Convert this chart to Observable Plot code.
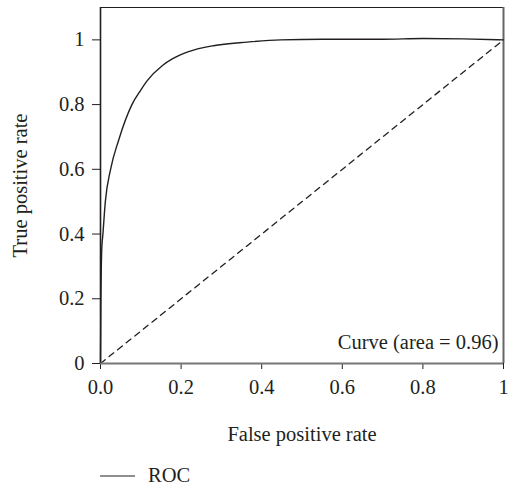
<!DOCTYPE html>
<html>
<head>
<meta charset="utf-8">
<script src="https://cdn.jsdelivr.net/npm/d3@7"></script>
<script src="https://cdn.jsdelivr.net/npm/@observablehq/plot@0.6"></script>
<style>
  html, body { margin: 0; padding: 0; background: #fff; }
  #chart { width: 514px; height: 486px; position: relative; font-family: "Liberation Serif", "DejaVu Serif", serif; color: #231f20; }
  #legend { position: absolute; left: 100px; top: 464px; display: flex; align-items: center; font-size: 20.5px; }
  #legend svg { margin-right: 13px; }
</style>
</head>
<body>
<div id="chart"></div>
<script>
// ROC curve values
const fpr = [0, 0.0005, 0.001, 0.002, 0.003, 0.006, 0.012, 0.025, 0.045, 0.078, 0.1, 0.116, 0.153, 0.178, 0.215, 0.28, 0.364, 0.447, 0.55, 0.7, 0.8, 0.9, 1];
const tpr = [0, 0.1, 0.2, 0.3, 0.35, 0.4, 0.5, 0.6, 0.69, 0.8, 0.845, 0.874, 0.92, 0.941, 0.962, 0.982, 0.993, 1.0, 1.002, 1.002, 1.004, 1.003, 1.0];
const chanceX = [0, 1];
const chanceY = [0, 1];
const xTicks = [0, 0.2, 0.4, 0.6, 0.8, 1];
const xTickLabels = ["0.0", "0.2", "0.4", "0.6", "0.8", "1"];
const yTicks = [0, 0.2, 0.4, 0.6, 0.8, 1];
const yTickLabels = ["0", "0.2", "0.4", "0.6", "0.8", "1"];
const xLabel = "False positive rate";
const yLabel = "True positive rate";
const annotation = "Curve (area = 0.96)";
const seriesName = "ROC";

const roc = fpr.map((x, i) => ({x, y: tpr[i]}));
const chance = chanceX.map((x, i) => ({x, y: chanceY[i]}));

const plot = Plot.plot({
  width: 514,
  height: 455,
  marginLeft: 100,
  marginRight: 11,
  marginTop: 7,
  marginBottom: 92,
  style: {fontFamily: "Liberation Serif", fontSize: "20.5px", color: "#231f20", background: "#fff"},
  x: {domain: [0, 1], label: null},
  y: {domain: [0, 1.1], label: null},
  marks: [
    Plot.axisX({ticks: xTicks, tickFormat: (d) => xTickLabels[xTicks.indexOf(d)], tickSize: 6, tickPadding: 10, stroke: "#231f20", fontSize: 20.5}),
    Plot.axisY({ticks: yTicks, tickFormat: (d) => yTickLabels[yTicks.indexOf(d)], tickSize: 8, tickPadding: 8, stroke: "#231f20", fontSize: 20.5}),
    Plot.ruleY([1.1], {stroke: "#231f20", strokeWidth: 1.2}),
    Plot.ruleX([1], {stroke: "#666", strokeWidth: 2}),
    Plot.line(chance, {x: "x", y: "y", stroke: "#231f20", strokeWidth: 1.3, strokeDasharray: "6,5"}),
    Plot.line(roc, {x: "x", y: "y", stroke: "#231f20", strokeWidth: 1.4, curve: "monotone-x"}),
    Plot.ruleX([0], {stroke: "#231f20", strokeWidth: 1.6}),
    Plot.ruleY([0], {stroke: "#777", strokeWidth: 2.2}),
    Plot.text([annotation], {frameAnchor: "bottom-right", textAnchor: "end", lineAnchor: "middle", dx: -5, dy: -21, fontSize: 20.5, fill: "#231f20"}),
    Plot.text([xLabel], {frameAnchor: "bottom", lineAnchor: "middle", dy: 71, fontSize: 20.5, fill: "#231f20"}),
    Plot.text([yLabel], {frameAnchor: "left", lineAnchor: "middle", textAnchor: "middle", rotate: -90, dx: -80, fontSize: 20.5, fill: "#231f20"})
  ]
});

const chart = document.getElementById("chart");
chart.appendChild(plot);

const legend = document.createElement("div");
legend.id = "legend";
legend.innerHTML = `<svg width="35" height="4"><line x1="0" x2="35" y1="2" y2="2" stroke="#231f20" stroke-width="1.2"/></svg><span>${seriesName}</span>`;
chart.appendChild(legend);
</script>
</body>
</html>
